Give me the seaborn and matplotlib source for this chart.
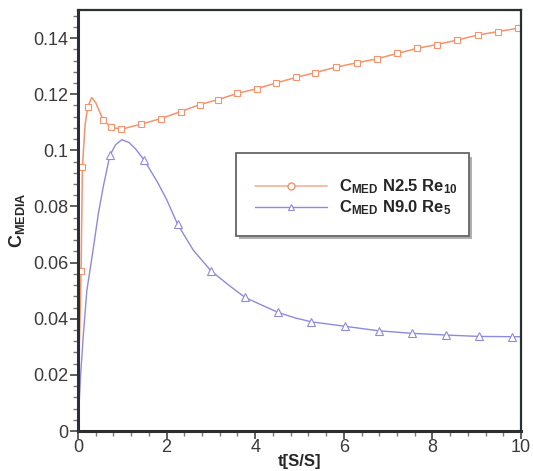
import matplotlib
matplotlib.use("Agg")
import matplotlib.pyplot as plt
import seaborn as sns
from matplotlib.lines import Line2D
from matplotlib.patches import Rectangle
from matplotlib.ticker import MultipleLocator, FuncFormatter

# Mean concentration, case N2.5 Re10
t_n25 = [0.0, 0.03, 0.07, 0.1, 0.16, 0.22, 0.31, 0.4, 0.57, 0.75, 0.97, 1.42,
         1.87, 2.32, 2.75, 3.17, 3.6, 4.05, 4.47, 4.93, 5.36, 5.82, 6.3, 6.75,
         7.2, 7.65, 8.1, 8.56, 9.03, 9.48, 9.93, 10.0]
c_n25 = [0.0, 0.03, 0.057, 0.094, 0.109, 0.1155, 0.1188, 0.117, 0.1107, 0.1083,
         0.1075, 0.1093, 0.1113, 0.1138, 0.1163, 0.1181, 0.1203, 0.122, 0.124,
         0.126, 0.1277, 0.1296, 0.1312, 0.1326, 0.1345, 0.1363, 0.1377, 0.1393,
         0.1411, 0.1423, 0.1435, 0.1437]
mark_n25 = [2, 3, 5] + list(range(8, 31))

# Mean concentration, case N9.0 Re5
t_n90 = [0.0, 0.03, 0.06, 0.12, 0.2, 0.35, 0.46, 0.57, 0.72, 0.85, 0.99, 1.15,
         1.3, 1.5, 1.8, 2.0, 2.25, 2.6, 3.0, 3.4, 3.77, 4.1, 4.51, 4.9, 5.27,
         6.03, 6.79, 7.55, 8.3, 9.05, 9.8, 10.0]
c_n90 = [0.0, 0.011, 0.02, 0.034, 0.05, 0.0655, 0.0775, 0.087, 0.0982, 0.102,
         0.1038, 0.1028, 0.1005, 0.0964, 0.0885, 0.0825, 0.0736, 0.0645, 0.0571,
         0.052, 0.0476, 0.0452, 0.0423, 0.0403, 0.0389, 0.0373, 0.0357, 0.0348,
         0.0342, 0.0337, 0.0336, 0.0336]
mark_n90 = [8, 13, 16, 18, 20, 22, 24, 25, 26, 27, 28, 29, 30]

label_n25 = r"C$_{\mathbf{MED}}$ N2.5 Re$_{\mathbf{10}}$"
label_n90 = r"C$_{\mathbf{MED}}$ N9.0 Re$_{\mathbf{5}}$"

col_n25 = "#f4936c"
col_n90 = "#8e8adc"

sns.set_style("ticks")
plt.rcParams["font.family"] = ["Liberation Sans", "DejaVu Sans"]
plt.rcParams["mathtext.fontset"] = "custom"
plt.rcParams["mathtext.rm"] = "Liberation Sans:bold"
plt.rcParams["mathtext.bf"] = "Liberation Sans:bold"
plt.rcParams["mathtext.it"] = "Liberation Sans:bold"

fig = plt.figure(figsize=(5.33, 4.71), dpi=100)
ax = fig.add_axes([0.1463, 0.0849, 0.8312, 0.8939])

sns.lineplot(x=t_n25, y=c_n25, ax=ax, color=col_n25, lw=1.1, sort=False,
             marker="s", markevery=mark_n25, markersize=5,
             markerfacecolor="white", markeredgecolor=col_n25,
             markeredgewidth=0.8)
sns.lineplot(x=t_n90, y=c_n90, ax=ax, color=col_n90, lw=1.0, sort=False,
             marker="^", markevery=mark_n90, markersize=5.5,
             markerfacecolor="white", markeredgecolor=col_n90,
             markeredgewidth=0.8)

ax.set_xlim(0, 10)
ax.set_ylim(0, 0.15)
ax.xaxis.set_major_locator(MultipleLocator(2))
ax.xaxis.set_minor_locator(MultipleLocator(0.4))
ax.yaxis.set_major_locator(MultipleLocator(0.02))
ax.yaxis.set_minor_locator(MultipleLocator(0.004))
ax.yaxis.set_major_formatter(FuncFormatter(lambda v, p: f"{v:g}" if v <= 0.141 else ""))
ax.xaxis.set_major_formatter(FuncFormatter(lambda v, p: f"{v:g}"))

ax.tick_params(axis="both", which="major", direction="out", length=6,
               width=1.2, color="#444444", labelsize=13,
               labelcolor="#3a3a3a", pad=1)
ax.tick_params(axis="x", which="major", pad=0)
ax.tick_params(axis="both", which="minor", direction="out", length=3.5,
               width=1.0, color="#777777")
for side in ["left", "bottom"]:
    ax.spines[side].set_linewidth(2.2)
    ax.spines[side].set_color("#2a2f33")
for side in ["top", "right"]:
    ax.spines[side].set_linewidth(1.6)
    ax.spines[side].set_color("#2a2f33")

ax.set_xlabel("t[S/S]", fontsize=12, fontweight="bold", labelpad=-2)
ax.set_ylabel(r"C$_{\mathbf{MEDIA}}$", fontsize=13, fontweight="bold", labelpad=4)

# legend box with a drop shadow
box = (0.357, 0.464, 0.526, 0.196)
ax.add_patch(Rectangle((box[0] + 0.006, box[1] - 0.008), box[2], box[3],
                       transform=ax.transAxes, facecolor="#b0b0b0",
                       edgecolor="none", zorder=4))
ax.add_patch(Rectangle((box[0], box[1]), box[2], box[3],
                       transform=ax.transAxes, facecolor="white",
                       edgecolor="#666666", lw=1.3, zorder=5))

handles = [
    Line2D([], [], color="#f7b097", lw=1.2, marker="o", markersize=5,
           markerfacecolor="white", markeredgecolor=col_n25, markeredgewidth=1.0),
    Line2D([], [], color=col_n90, lw=1.0, marker="^", markersize=4.5,
           markerfacecolor="white", markeredgecolor=col_n90, markeredgewidth=0.8),
]
leg = ax.legend(handles, [label_n25, label_n90], loc="center left",
                bbox_to_anchor=(0.40, 0.555), frameon=False, borderpad=0,
                borderaxespad=0, handlelength=4.3, handletextpad=0.7,
                labelspacing=0.15, prop={"size": 12, "weight": "bold"})
leg.set_zorder(6)

fig.savefig("out.png", dpi=100)
